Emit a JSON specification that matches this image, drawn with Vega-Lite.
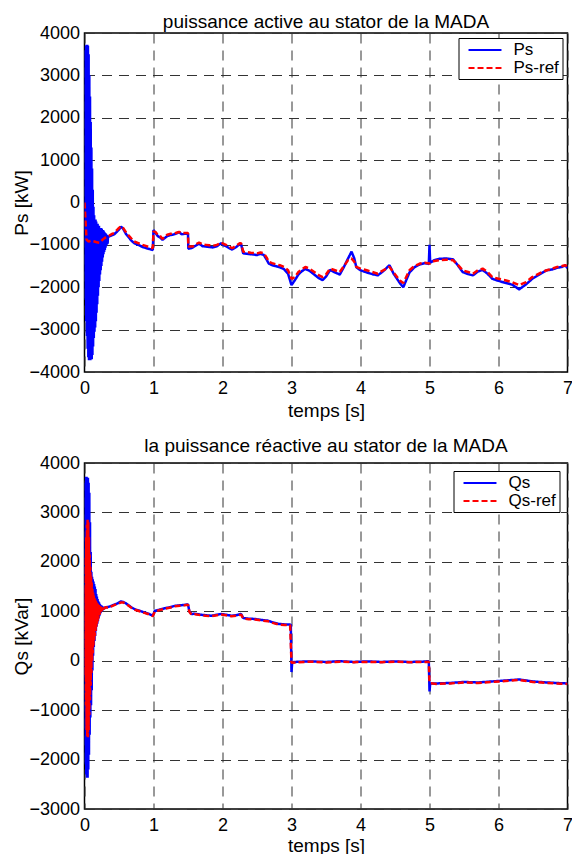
{
  "$schema": "https://vega.github.io/schema/vega-lite/v6.json",
  "autosize": {"type": "pad"},
  "padding": {"left": 11.5, "top": 12, "right": 0, "bottom": 0},
  "background": "white",
  "bounds": "flush",
  "spacing": 91,
  "datasets": {
    "ps": [
      {"t":0.000,"v":3200,"s":"Ps"},{"t":0.005,"v":-1700,"s":"Ps"},{"t":0.010,"v":3600,"s":"Ps"},{"t":0.015,"v":-2300,"s":"Ps"},
      {"t":0.020,"v":3700,"s":"Ps"},{"t":0.025,"v":-2800,"s":"Ps"},{"t":0.030,"v":3720,"s":"Ps"},{"t":0.035,"v":-3150,"s":"Ps"},
      {"t":0.040,"v":3720,"s":"Ps"},{"t":0.045,"v":-3450,"s":"Ps"},{"t":0.050,"v":3700,"s":"Ps"},{"t":0.055,"v":-3650,"s":"Ps"},
      {"t":0.060,"v":3500,"s":"Ps"},{"t":0.065,"v":-3720,"s":"Ps"},{"t":0.070,"v":3000,"s":"Ps"},{"t":0.075,"v":-3720,"s":"Ps"},
      {"t":0.080,"v":2500,"s":"Ps"},{"t":0.085,"v":-3720,"s":"Ps"},{"t":0.090,"v":1900,"s":"Ps"},{"t":0.095,"v":-3700,"s":"Ps"},
      {"t":0.100,"v":1300,"s":"Ps"},{"t":0.105,"v":-3700,"s":"Ps"},{"t":0.110,"v":800,"s":"Ps"},{"t":0.115,"v":-3600,"s":"Ps"},
      {"t":0.120,"v":300,"s":"Ps"},{"t":0.125,"v":-3400,"s":"Ps"},{"t":0.130,"v":-100,"s":"Ps"},{"t":0.135,"v":-3200,"s":"Ps"},
      {"t":0.140,"v":-300,"s":"Ps"},{"t":0.145,"v":-3050,"s":"Ps"},{"t":0.150,"v":-400,"s":"Ps"},{"t":0.155,"v":-2950,"s":"Ps"},
      {"t":0.160,"v":-400,"s":"Ps"},{"t":0.165,"v":-2800,"s":"Ps"},{"t":0.170,"v":-450,"s":"Ps"},{"t":0.175,"v":-2600,"s":"Ps"},
      {"t":0.180,"v":-500,"s":"Ps"},{"t":0.185,"v":-2400,"s":"Ps"},{"t":0.190,"v":-500,"s":"Ps"},{"t":0.195,"v":-2200,"s":"Ps"},
      {"t":0.200,"v":-550,"s":"Ps"},{"t":0.205,"v":-2000,"s":"Ps"},{"t":0.210,"v":-550,"s":"Ps"},{"t":0.215,"v":-1850,"s":"Ps"},
      {"t":0.220,"v":-600,"s":"Ps"},{"t":0.225,"v":-1700,"s":"Ps"},{"t":0.230,"v":-600,"s":"Ps"},{"t":0.235,"v":-1600,"s":"Ps"},
      {"t":0.240,"v":-600,"s":"Ps"},{"t":0.245,"v":-1500,"s":"Ps"},{"t":0.250,"v":-620,"s":"Ps"},{"t":0.255,"v":-1400,"s":"Ps"},
      {"t":0.260,"v":-650,"s":"Ps"},{"t":0.265,"v":-1300,"s":"Ps"},{"t":0.270,"v":-650,"s":"Ps"},{"t":0.275,"v":-1220,"s":"Ps"},
      {"t":0.280,"v":-680,"s":"Ps"},{"t":0.285,"v":-1170,"s":"Ps"},{"t":0.290,"v":-700,"s":"Ps"},{"t":0.295,"v":-1120,"s":"Ps"},
      {"t":0.300,"v":-720,"s":"Ps"},{"t":0.305,"v":-1070,"s":"Ps"},{"t":0.310,"v":-740,"s":"Ps"},{"t":0.315,"v":-1020,"s":"Ps"},
      {"t":0.320,"v":-760,"s":"Ps"},{"t":0.325,"v":-990,"s":"Ps"},{"t":0.330,"v":-780,"s":"Ps"},{"t":0.335,"v":-970,"s":"Ps"},
      {"t":0.340,"v":-800,"s":"Ps"},
      {"t":0.360,"v":-800,"s":"Ps"},{"t":0.400,"v":-770,"s":"Ps"},{"t":0.430,"v":-750,"s":"Ps"},{"t":0.470,"v":-690,"s":"Ps"},
      {"t":0.500,"v":-640,"s":"Ps"},{"t":0.530,"v":-570,"s":"Ps"},{"t":0.560,"v":-620,"s":"Ps"},{"t":0.600,"v":-740,"s":"Ps"},
      {"t":0.630,"v":-800,"s":"Ps"},{"t":0.680,"v":-900,"s":"Ps"},{"t":0.720,"v":-960,"s":"Ps"},{"t":0.780,"v":-1000,"s":"Ps"},
      {"t":0.840,"v":-1050,"s":"Ps"},{"t":0.900,"v":-1080,"s":"Ps"},{"t":0.950,"v":-1100,"s":"Ps"},{"t":0.990,"v":-1120,"s":"Ps"},
      {"t":1.000,"v":-650,"s":"Ps"},{"t":1.030,"v":-720,"s":"Ps"},{"t":1.060,"v":-790,"s":"Ps"},{"t":1.100,"v":-830,"s":"Ps"},
      {"t":1.130,"v":-880,"s":"Ps"},{"t":1.170,"v":-830,"s":"Ps"},{"t":1.200,"v":-790,"s":"Ps"},{"t":1.240,"v":-770,"s":"Ps"},
      {"t":1.280,"v":-760,"s":"Ps"},{"t":1.320,"v":-740,"s":"Ps"},{"t":1.370,"v":-700,"s":"Ps"},{"t":1.410,"v":-750,"s":"Ps"},
      {"t":1.450,"v":-740,"s":"Ps"},{"t":1.500,"v":-740,"s":"Ps"},{"t":1.505,"v":-1090,"s":"Ps"},{"t":1.540,"v":-1080,"s":"Ps"},
      {"t":1.570,"v":-1060,"s":"Ps"},{"t":1.610,"v":-1020,"s":"Ps"},{"t":1.660,"v":-970,"s":"Ps"},{"t":1.710,"v":-1030,"s":"Ps"},
      {"t":1.760,"v":-1040,"s":"Ps"},{"t":1.810,"v":-1050,"s":"Ps"},{"t":1.860,"v":-1060,"s":"Ps"},{"t":1.920,"v":-1030,"s":"Ps"},
      {"t":1.980,"v":-960,"s":"Ps"},{"t":2.020,"v":-1010,"s":"Ps"},{"t":2.050,"v":-1030,"s":"Ps"},{"t":2.100,"v":-1080,"s":"Ps"},
      {"t":2.140,"v":-1110,"s":"Ps"},{"t":2.200,"v":-1050,"s":"Ps"},{"t":2.250,"v":-980,"s":"Ps"},{"t":2.270,"v":-990,"s":"Ps"},
      {"t":2.300,"v":-1200,"s":"Ps"},{"t":2.350,"v":-1210,"s":"Ps"},{"t":2.410,"v":-1220,"s":"Ps"},{"t":2.460,"v":-1230,"s":"Ps"},
      {"t":2.500,"v":-1240,"s":"Ps"},{"t":2.550,"v":-1210,"s":"Ps"},{"t":2.600,"v":-1240,"s":"Ps"},{"t":2.640,"v":-1350,"s":"Ps"},
      {"t":2.670,"v":-1440,"s":"Ps"},{"t":2.720,"v":-1480,"s":"Ps"},{"t":2.770,"v":-1500,"s":"Ps"},{"t":2.830,"v":-1530,"s":"Ps"},
      {"t":2.890,"v":-1570,"s":"Ps"},{"t":2.950,"v":-1680,"s":"Ps"},{"t":3.000,"v":-1950,"s":"Ps"},{"t":3.050,"v":-1830,"s":"Ps"},
      {"t":3.100,"v":-1700,"s":"Ps"},{"t":3.150,"v":-1620,"s":"Ps"},{"t":3.200,"v":-1570,"s":"Ps"},{"t":3.260,"v":-1610,"s":"Ps"},
      {"t":3.330,"v":-1700,"s":"Ps"},{"t":3.400,"v":-1790,"s":"Ps"},{"t":3.450,"v":-1830,"s":"Ps"},{"t":3.500,"v":-1750,"s":"Ps"},
      {"t":3.560,"v":-1590,"s":"Ps"},{"t":3.630,"v":-1650,"s":"Ps"},{"t":3.700,"v":-1700,"s":"Ps"},{"t":3.760,"v":-1520,"s":"Ps"},
      {"t":3.820,"v":-1320,"s":"Ps"},{"t":3.870,"v":-1160,"s":"Ps"},{"t":3.910,"v":-1320,"s":"Ps"},{"t":3.940,"v":-1530,"s":"Ps"},
      {"t":4.000,"v":-1600,"s":"Ps"},{"t":4.090,"v":-1650,"s":"Ps"},{"t":4.170,"v":-1690,"s":"Ps"},{"t":4.250,"v":-1720,"s":"Ps"},
      {"t":4.330,"v":-1620,"s":"Ps"},{"t":4.420,"v":-1480,"s":"Ps"},{"t":4.480,"v":-1680,"s":"Ps"},{"t":4.570,"v":-1900,"s":"Ps"},
      {"t":4.620,"v":-2000,"s":"Ps"},{"t":4.710,"v":-1650,"s":"Ps"},{"t":4.780,"v":-1530,"s":"Ps"},{"t":4.860,"v":-1460,"s":"Ps"},
      {"t":4.930,"v":-1430,"s":"Ps"},{"t":4.990,"v":-1450,"s":"Ps"},{"t":5.000,"v":-1000,"s":"Ps"},{"t":5.010,"v":-1420,"s":"Ps"},
      {"t":5.070,"v":-1360,"s":"Ps"},{"t":5.140,"v":-1330,"s":"Ps"},{"t":5.240,"v":-1320,"s":"Ps"},{"t":5.340,"v":-1340,"s":"Ps"},
      {"t":5.400,"v":-1460,"s":"Ps"},{"t":5.480,"v":-1640,"s":"Ps"},{"t":5.560,"v":-1690,"s":"Ps"},{"t":5.630,"v":-1720,"s":"Ps"},
      {"t":5.700,"v":-1630,"s":"Ps"},{"t":5.770,"v":-1590,"s":"Ps"},{"t":5.840,"v":-1680,"s":"Ps"},{"t":5.910,"v":-1800,"s":"Ps"},
      {"t":6.000,"v":-1850,"s":"Ps"},{"t":6.110,"v":-1900,"s":"Ps"},{"t":6.200,"v":-1940,"s":"Ps"},{"t":6.300,"v":-2050,"s":"Ps"},
      {"t":6.400,"v":-1930,"s":"Ps"},{"t":6.490,"v":-1800,"s":"Ps"},{"t":6.560,"v":-1730,"s":"Ps"},{"t":6.630,"v":-1660,"s":"Ps"},
      {"t":6.700,"v":-1600,"s":"Ps"},{"t":6.780,"v":-1580,"s":"Ps"},{"t":6.850,"v":-1540,"s":"Ps"},{"t":6.920,"v":-1520,"s":"Ps"},
      {"t":6.970,"v":-1480,"s":"Ps"},{"t":7.000,"v":-1550,"s":"Ps"}
    ],
    "psref": [
      {"t":0.000,"v":0,"s":"Ps-ref"},{"t":0.030,"v":-880,"s":"Ps-ref"},{"t":0.060,"v":-920,"s":"Ps-ref"},{"t":0.100,"v":-900,"s":"Ps-ref"},
      {"t":0.145,"v":-920,"s":"Ps-ref"},{"t":0.180,"v":-940,"s":"Ps-ref"},{"t":0.220,"v":-950,"s":"Ps-ref"},{"t":0.260,"v":-880,"s":"Ps-ref"},
      {"t":0.290,"v":-840,"s":"Ps-ref"},{"t":0.330,"v":-800,"s":"Ps-ref"},{"t":0.360,"v":-780,"s":"Ps-ref"},{"t":0.400,"v":-740,"s":"Ps-ref"},
      {"t":0.430,"v":-720,"s":"Ps-ref"},{"t":0.470,"v":-650,"s":"Ps-ref"},{"t":0.500,"v":-600,"s":"Ps-ref"},{"t":0.530,"v":-560,"s":"Ps-ref"},
      {"t":0.560,"v":-600,"s":"Ps-ref"},{"t":0.600,"v":-700,"s":"Ps-ref"},{"t":0.630,"v":-760,"s":"Ps-ref"},{"t":0.680,"v":-850,"s":"Ps-ref"},
      {"t":0.720,"v":-920,"s":"Ps-ref"},{"t":0.780,"v":-960,"s":"Ps-ref"},{"t":0.840,"v":-1000,"s":"Ps-ref"},{"t":0.900,"v":-1030,"s":"Ps-ref"},
      {"t":0.950,"v":-1060,"s":"Ps-ref"},{"t":0.990,"v":-1080,"s":"Ps-ref"},{"t":1.000,"v":-680,"s":"Ps-ref"},{"t":1.030,"v":-700,"s":"Ps-ref"},
      {"t":1.060,"v":-760,"s":"Ps-ref"},{"t":1.100,"v":-800,"s":"Ps-ref"},{"t":1.130,"v":-860,"s":"Ps-ref"},{"t":1.170,"v":-800,"s":"Ps-ref"},
      {"t":1.200,"v":-760,"s":"Ps-ref"},{"t":1.240,"v":-740,"s":"Ps-ref"},{"t":1.280,"v":-736,"s":"Ps-ref"},{"t":1.320,"v":-720,"s":"Ps-ref"},
      {"t":1.370,"v":-696,"s":"Ps-ref"},{"t":1.410,"v":-720,"s":"Ps-ref"},{"t":1.450,"v":-720,"s":"Ps-ref"},{"t":1.500,"v":-720,"s":"Ps-ref"},
      {"t":1.505,"v":-1040,"s":"Ps-ref"},{"t":1.540,"v":-1040,"s":"Ps-ref"},{"t":1.570,"v":-1040,"s":"Ps-ref"},{"t":1.610,"v":-990,"s":"Ps-ref"},
      {"t":1.660,"v":-944,"s":"Ps-ref"},{"t":1.710,"v":-990,"s":"Ps-ref"},{"t":1.760,"v":-1000,"s":"Ps-ref"},{"t":1.810,"v":-1010,"s":"Ps-ref"},
      {"t":1.860,"v":-1024,"s":"Ps-ref"},{"t":1.920,"v":-1000,"s":"Ps-ref"},{"t":1.980,"v":-944,"s":"Ps-ref"},{"t":2.020,"v":-980,"s":"Ps-ref"},
      {"t":2.050,"v":-1000,"s":"Ps-ref"},{"t":2.100,"v":-1040,"s":"Ps-ref"},{"t":2.140,"v":-1080,"s":"Ps-ref"},{"t":2.200,"v":-1020,"s":"Ps-ref"},
      {"t":2.250,"v":-960,"s":"Ps-ref"},{"t":2.270,"v":-960,"s":"Ps-ref"},{"t":2.300,"v":-1160,"s":"Ps-ref"},{"t":2.350,"v":-1170,"s":"Ps-ref"},
      {"t":2.410,"v":-1184,"s":"Ps-ref"},{"t":2.460,"v":-1190,"s":"Ps-ref"},{"t":2.500,"v":-1200,"s":"Ps-ref"},{"t":2.550,"v":-1180,"s":"Ps-ref"},
      {"t":2.600,"v":-1200,"s":"Ps-ref"},{"t":2.640,"v":-1300,"s":"Ps-ref"},{"t":2.670,"v":-1400,"s":"Ps-ref"},{"t":2.720,"v":-1430,"s":"Ps-ref"},
      {"t":2.770,"v":-1456,"s":"Ps-ref"},{"t":2.830,"v":-1480,"s":"Ps-ref"},{"t":2.890,"v":-1520,"s":"Ps-ref"},{"t":2.950,"v":-1600,"s":"Ps-ref"},
      {"t":3.000,"v":-1800,"s":"Ps-ref"},{"t":3.050,"v":-1760,"s":"Ps-ref"},{"t":3.100,"v":-1640,"s":"Ps-ref"},{"t":3.150,"v":-1580,"s":"Ps-ref"},
      {"t":3.200,"v":-1520,"s":"Ps-ref"},{"t":3.260,"v":-1560,"s":"Ps-ref"},{"t":3.330,"v":-1640,"s":"Ps-ref"},{"t":3.400,"v":-1720,"s":"Ps-ref"},
      {"t":3.450,"v":-1760,"s":"Ps-ref"},{"t":3.500,"v":-1700,"s":"Ps-ref"},{"t":3.560,"v":-1560,"s":"Ps-ref"},{"t":3.630,"v":-1600,"s":"Ps-ref"},
      {"t":3.700,"v":-1640,"s":"Ps-ref"},{"t":3.760,"v":-1500,"s":"Ps-ref"},{"t":3.820,"v":-1360,"s":"Ps-ref"},{"t":3.870,"v":-1320,"s":"Ps-ref"},
      {"t":3.910,"v":-1400,"s":"Ps-ref"},{"t":3.940,"v":-1520,"s":"Ps-ref"},{"t":4.000,"v":-1560,"s":"Ps-ref"},{"t":4.090,"v":-1600,"s":"Ps-ref"},
      {"t":4.170,"v":-1640,"s":"Ps-ref"},{"t":4.250,"v":-1680,"s":"Ps-ref"},{"t":4.330,"v":-1600,"s":"Ps-ref"},{"t":4.420,"v":-1520,"s":"Ps-ref"},
      {"t":4.480,"v":-1650,"s":"Ps-ref"},{"t":4.570,"v":-1840,"s":"Ps-ref"},{"t":4.620,"v":-1900,"s":"Ps-ref"},{"t":4.710,"v":-1600,"s":"Ps-ref"},
      {"t":4.780,"v":-1500,"s":"Ps-ref"},{"t":4.860,"v":-1440,"s":"Ps-ref"},{"t":4.930,"v":-1420,"s":"Ps-ref"},{"t":5.000,"v":-1440,"s":"Ps-ref"},
      {"t":5.070,"v":-1380,"s":"Ps-ref"},{"t":5.140,"v":-1360,"s":"Ps-ref"},{"t":5.240,"v":-1350,"s":"Ps-ref"},{"t":5.340,"v":-1360,"s":"Ps-ref"},
      {"t":5.400,"v":-1450,"s":"Ps-ref"},{"t":5.480,"v":-1600,"s":"Ps-ref"},{"t":5.560,"v":-1640,"s":"Ps-ref"},{"t":5.630,"v":-1680,"s":"Ps-ref"},
      {"t":5.700,"v":-1600,"s":"Ps-ref"},{"t":5.770,"v":-1560,"s":"Ps-ref"},{"t":5.840,"v":-1640,"s":"Ps-ref"},{"t":5.910,"v":-1760,"s":"Ps-ref"},
      {"t":6.000,"v":-1800,"s":"Ps-ref"},{"t":6.110,"v":-1840,"s":"Ps-ref"},{"t":6.200,"v":-1880,"s":"Ps-ref"},{"t":6.300,"v":-1950,"s":"Ps-ref"},
      {"t":6.400,"v":-1880,"s":"Ps-ref"},{"t":6.490,"v":-1760,"s":"Ps-ref"},{"t":6.560,"v":-1700,"s":"Ps-ref"},{"t":6.630,"v":-1640,"s":"Ps-ref"},
      {"t":6.700,"v":-1600,"s":"Ps-ref"},{"t":6.780,"v":-1560,"s":"Ps-ref"},{"t":6.850,"v":-1520,"s":"Ps-ref"},{"t":6.920,"v":-1500,"s":"Ps-ref"},
      {"t":6.970,"v":-1480,"s":"Ps-ref"},{"t":7.000,"v":-1520,"s":"Ps-ref"}
    ],
    "qs": [
      {"t":0.000,"v":3000,"s":"Qs"},{"t":0.005,"v":-1700,"s":"Qs"},{"t":0.010,"v":3600,"s":"Qs"},{"t":0.015,"v":-2100,"s":"Qs"},
      {"t":0.020,"v":3720,"s":"Qs"},{"t":0.025,"v":-2300,"s":"Qs"},{"t":0.030,"v":3720,"s":"Qs"},{"t":0.035,"v":-2370,"s":"Qs"},
      {"t":0.040,"v":3700,"s":"Qs"},{"t":0.045,"v":-2370,"s":"Qs"},{"t":0.050,"v":3700,"s":"Qs"},{"t":0.055,"v":-2200,"s":"Qs"},
      {"t":0.060,"v":3600,"s":"Qs"},{"t":0.065,"v":-1900,"s":"Qs"},{"t":0.070,"v":3400,"s":"Qs"},{"t":0.075,"v":-1500,"s":"Qs"},
      {"t":0.080,"v":2800,"s":"Qs"},{"t":0.085,"v":-1150,"s":"Qs"},{"t":0.090,"v":2200,"s":"Qs"},{"t":0.095,"v":-900,"s":"Qs"},
      {"t":0.100,"v":1800,"s":"Qs"},{"t":0.105,"v":-600,"s":"Qs"},{"t":0.110,"v":1700,"s":"Qs"},{"t":0.115,"v":-200,"s":"Qs"},
      {"t":0.120,"v":1650,"s":"Qs"},{"t":0.125,"v":100,"s":"Qs"},{"t":0.130,"v":1600,"s":"Qs"},{"t":0.135,"v":280,"s":"Qs"},
      {"t":0.140,"v":1550,"s":"Qs"},{"t":0.145,"v":400,"s":"Qs"},{"t":0.150,"v":1500,"s":"Qs"},{"t":0.155,"v":500,"s":"Qs"},
      {"t":0.160,"v":1450,"s":"Qs"},{"t":0.165,"v":600,"s":"Qs"},{"t":0.170,"v":1350,"s":"Qs"},{"t":0.175,"v":690,"s":"Qs"},
      {"t":0.180,"v":1300,"s":"Qs"},{"t":0.185,"v":750,"s":"Qs"},{"t":0.190,"v":1250,"s":"Qs"},{"t":0.195,"v":800,"s":"Qs"},
      {"t":0.200,"v":1200,"s":"Qs"},{"t":0.205,"v":860,"s":"Qs"},{"t":0.210,"v":1180,"s":"Qs"},{"t":0.215,"v":900,"s":"Qs"},
      {"t":0.220,"v":1150,"s":"Qs"},{"t":0.225,"v":940,"s":"Qs"},{"t":0.230,"v":1130,"s":"Qs"},{"t":0.235,"v":970,"s":"Qs"},
      {"t":0.240,"v":1120,"s":"Qs"},{"t":0.245,"v":990,"s":"Qs"},{"t":0.250,"v":1110,"s":"Qs"},{"t":0.255,"v":1010,"s":"Qs"},
      {"t":0.260,"v":1100,"s":"Qs"},{"t":0.265,"v":1025,"s":"Qs"},{"t":0.270,"v":1090,"s":"Qs"},{"t":0.275,"v":1035,"s":"Qs"},
      {"t":0.280,"v":1080,"s":"Qs"},{"t":0.285,"v":1045,"s":"Qs"},{"t":0.290,"v":1080,"s":"Qs"},{"t":0.295,"v":1055,"s":"Qs"},
      {"t":0.300,"v":1080,"s":"Qs"},
      {"t":0.350,"v":1090,"s":"Qs"},{"t":0.390,"v":1110,"s":"Qs"},{"t":0.440,"v":1140,"s":"Qs"},{"t":0.480,"v":1160,"s":"Qs"},
      {"t":0.530,"v":1200,"s":"Qs"},{"t":0.560,"v":1190,"s":"Qs"},{"t":0.600,"v":1160,"s":"Qs"},{"t":0.630,"v":1130,"s":"Qs"},
      {"t":0.680,"v":1080,"s":"Qs"},{"t":0.730,"v":1040,"s":"Qs"},{"t":0.800,"v":1010,"s":"Qs"},{"t":0.870,"v":975,"s":"Qs"},
      {"t":0.930,"v":950,"s":"Qs"},{"t":0.990,"v":910,"s":"Qs"},{"t":1.020,"v":1010,"s":"Qs"},{"t":1.080,"v":1030,"s":"Qs"},
      {"t":1.160,"v":1060,"s":"Qs"},{"t":1.230,"v":1080,"s":"Qs"},{"t":1.310,"v":1110,"s":"Qs"},{"t":1.380,"v":1120,"s":"Qs"},
      {"t":1.450,"v":1130,"s":"Qs"},{"t":1.500,"v":1140,"s":"Qs"},{"t":1.520,"v":1000,"s":"Qs"},{"t":1.550,"v":945,"s":"Qs"},
      {"t":1.600,"v":950,"s":"Qs"},{"t":1.690,"v":930,"s":"Qs"},{"t":1.760,"v":920,"s":"Qs"},{"t":1.840,"v":910,"s":"Qs"},
      {"t":1.920,"v":930,"s":"Qs"},{"t":1.980,"v":945,"s":"Qs"},{"t":2.050,"v":930,"s":"Qs"},{"t":2.130,"v":910,"s":"Qs"},
      {"t":2.200,"v":920,"s":"Qs"},{"t":2.270,"v":945,"s":"Qs"},{"t":2.300,"v":865,"s":"Qs"},{"t":2.380,"v":850,"s":"Qs"},
      {"t":2.470,"v":845,"s":"Qs"},{"t":2.560,"v":825,"s":"Qs"},{"t":2.660,"v":810,"s":"Qs"},{"t":2.740,"v":770,"s":"Qs"},
      {"t":2.810,"v":745,"s":"Qs"},{"t":2.900,"v":735,"s":"Qs"},{"t":2.990,"v":730,"s":"Qs"},{"t":3.000,"v":-230,"s":"Qs"},
      {"t":3.010,"v":-30,"s":"Qs"},{"t":3.100,"v":-20,"s":"Qs"},{"t":3.300,"v":-15,"s":"Qs"},{"t":3.500,"v":-25,"s":"Qs"},
      {"t":3.700,"v":-10,"s":"Qs"},{"t":3.900,"v":-25,"s":"Qs"},{"t":4.100,"v":-15,"s":"Qs"},{"t":4.300,"v":-25,"s":"Qs"},
      {"t":4.500,"v":-15,"s":"Qs"},{"t":4.700,"v":-25,"s":"Qs"},{"t":4.900,"v":-20,"s":"Qs"},{"t":4.990,"v":-10,"s":"Qs"},
      {"t":5.000,"v":-620,"s":"Qs"},{"t":5.010,"v":-460,"s":"Qs"},{"t":5.100,"v":-460,"s":"Qs"},{"t":5.300,"v":-450,"s":"Qs"},
      {"t":5.500,"v":-430,"s":"Qs"},{"t":5.700,"v":-440,"s":"Qs"},{"t":5.900,"v":-420,"s":"Qs"},{"t":6.100,"v":-400,"s":"Qs"},
      {"t":6.300,"v":-380,"s":"Qs"},{"t":6.500,"v":-420,"s":"Qs"},{"t":6.700,"v":-440,"s":"Qs"},{"t":6.900,"v":-455,"s":"Qs"},
      {"t":7.000,"v":-460,"s":"Qs"}
    ],
    "qsref": [
      {"t":0.000,"v":800,"s":"Qs-ref"},{"t":0.005,"v":1500,"s":"Qs-ref"},{"t":0.010,"v":-300,"s":"Qs-ref"},{"t":0.015,"v":2100,"s":"Qs-ref"},
      {"t":0.020,"v":-900,"s":"Qs-ref"},{"t":0.025,"v":2500,"s":"Qs-ref"},{"t":0.030,"v":-1400,"s":"Qs-ref"},{"t":0.035,"v":2750,"s":"Qs-ref"},
      {"t":0.040,"v":-1550,"s":"Qs-ref"},{"t":0.045,"v":2850,"s":"Qs-ref"},{"t":0.050,"v":-1550,"s":"Qs-ref"},{"t":0.055,"v":2800,"s":"Qs-ref"},
      {"t":0.060,"v":-1400,"s":"Qs-ref"},{"t":0.065,"v":2500,"s":"Qs-ref"},{"t":0.070,"v":-1100,"s":"Qs-ref"},{"t":0.075,"v":2150,"s":"Qs-ref"},
      {"t":0.080,"v":-800,"s":"Qs-ref"},{"t":0.085,"v":1900,"s":"Qs-ref"},{"t":0.090,"v":-500,"s":"Qs-ref"},{"t":0.095,"v":1720,"s":"Qs-ref"},
      {"t":0.100,"v":-250,"s":"Qs-ref"},{"t":0.105,"v":1580,"s":"Qs-ref"},{"t":0.110,"v":0,"s":"Qs-ref"},{"t":0.115,"v":1450,"s":"Qs-ref"},
      {"t":0.120,"v":150,"s":"Qs-ref"},{"t":0.125,"v":1380,"s":"Qs-ref"},{"t":0.130,"v":300,"s":"Qs-ref"},{"t":0.135,"v":1320,"s":"Qs-ref"},
      {"t":0.140,"v":420,"s":"Qs-ref"},{"t":0.145,"v":1270,"s":"Qs-ref"},{"t":0.150,"v":500,"s":"Qs-ref"},{"t":0.155,"v":1240,"s":"Qs-ref"},
      {"t":0.160,"v":600,"s":"Qs-ref"},{"t":0.165,"v":1210,"s":"Qs-ref"},{"t":0.170,"v":680,"s":"Qs-ref"},{"t":0.175,"v":1180,"s":"Qs-ref"},
      {"t":0.180,"v":750,"s":"Qs-ref"},{"t":0.185,"v":1160,"s":"Qs-ref"},{"t":0.190,"v":800,"s":"Qs-ref"},{"t":0.195,"v":1140,"s":"Qs-ref"},
      {"t":0.200,"v":850,"s":"Qs-ref"},{"t":0.205,"v":1125,"s":"Qs-ref"},{"t":0.210,"v":900,"s":"Qs-ref"},{"t":0.215,"v":1115,"s":"Qs-ref"},
      {"t":0.220,"v":930,"s":"Qs-ref"},{"t":0.225,"v":1105,"s":"Qs-ref"},{"t":0.230,"v":960,"s":"Qs-ref"},{"t":0.235,"v":1095,"s":"Qs-ref"},
      {"t":0.240,"v":990,"s":"Qs-ref"},{"t":0.245,"v":1085,"s":"Qs-ref"},{"t":0.250,"v":1010,"s":"Qs-ref"},{"t":0.255,"v":1075,"s":"Qs-ref"},
      {"t":0.260,"v":1030,"s":"Qs-ref"},{"t":0.265,"v":1065,"s":"Qs-ref"},{"t":0.270,"v":1040,"s":"Qs-ref"},{"t":0.275,"v":1060,"s":"Qs-ref"},
      {"t":0.280,"v":1050,"s":"Qs-ref"},{"t":0.290,"v":1065,"s":"Qs-ref"},{"t":0.300,"v":1080,"s":"Qs-ref"},
      {"t":0.350,"v":1070,"s":"Qs-ref"},{"t":0.390,"v":1100,"s":"Qs-ref"},{"t":0.440,"v":1130,"s":"Qs-ref"},{"t":0.480,"v":1150,"s":"Qs-ref"},
      {"t":0.530,"v":1180,"s":"Qs-ref"},{"t":0.560,"v":1180,"s":"Qs-ref"},{"t":0.600,"v":1150,"s":"Qs-ref"},{"t":0.630,"v":1120,"s":"Qs-ref"},
      {"t":0.680,"v":1070,"s":"Qs-ref"},{"t":0.730,"v":1030,"s":"Qs-ref"},{"t":0.800,"v":1000,"s":"Qs-ref"},{"t":0.870,"v":967,"s":"Qs-ref"},
      {"t":0.930,"v":940,"s":"Qs-ref"},{"t":0.990,"v":900,"s":"Qs-ref"},{"t":1.020,"v":1000,"s":"Qs-ref"},{"t":1.080,"v":1020,"s":"Qs-ref"},
      {"t":1.160,"v":1050,"s":"Qs-ref"},{"t":1.230,"v":1070,"s":"Qs-ref"},{"t":1.310,"v":1100,"s":"Qs-ref"},{"t":1.380,"v":1110,"s":"Qs-ref"},
      {"t":1.450,"v":1120,"s":"Qs-ref"},{"t":1.500,"v":1130,"s":"Qs-ref"},{"t":1.520,"v":990,"s":"Qs-ref"},{"t":1.550,"v":933,"s":"Qs-ref"},
      {"t":1.600,"v":940,"s":"Qs-ref"},{"t":1.690,"v":920,"s":"Qs-ref"},{"t":1.760,"v":910,"s":"Qs-ref"},{"t":1.840,"v":900,"s":"Qs-ref"},
      {"t":1.920,"v":920,"s":"Qs-ref"},{"t":1.980,"v":933,"s":"Qs-ref"},{"t":2.050,"v":920,"s":"Qs-ref"},{"t":2.130,"v":900,"s":"Qs-ref"},
      {"t":2.200,"v":910,"s":"Qs-ref"},{"t":2.270,"v":933,"s":"Qs-ref"},{"t":2.300,"v":853,"s":"Qs-ref"},{"t":2.380,"v":840,"s":"Qs-ref"},
      {"t":2.470,"v":833,"s":"Qs-ref"},{"t":2.560,"v":815,"s":"Qs-ref"},{"t":2.660,"v":800,"s":"Qs-ref"},{"t":2.740,"v":760,"s":"Qs-ref"},
      {"t":2.810,"v":733,"s":"Qs-ref"},{"t":2.900,"v":725,"s":"Qs-ref"},{"t":2.980,"v":720,"s":"Qs-ref"},{"t":3.000,"v":-40,"s":"Qs-ref"},
      {"t":3.100,"v":-30,"s":"Qs-ref"},{"t":3.300,"v":-20,"s":"Qs-ref"},{"t":3.500,"v":-35,"s":"Qs-ref"},{"t":3.700,"v":-20,"s":"Qs-ref"},
      {"t":3.900,"v":-30,"s":"Qs-ref"},{"t":4.100,"v":-25,"s":"Qs-ref"},{"t":4.300,"v":-30,"s":"Qs-ref"},{"t":4.500,"v":-20,"s":"Qs-ref"},
      {"t":4.700,"v":-30,"s":"Qs-ref"},{"t":4.900,"v":-25,"s":"Qs-ref"},{"t":4.990,"v":-20,"s":"Qs-ref"},{"t":5.000,"v":-450,"s":"Qs-ref"},
      {"t":5.100,"v":-470,"s":"Qs-ref"},{"t":5.300,"v":-460,"s":"Qs-ref"},{"t":5.500,"v":-440,"s":"Qs-ref"},{"t":5.700,"v":-450,"s":"Qs-ref"},
      {"t":5.900,"v":-430,"s":"Qs-ref"},{"t":6.100,"v":-410,"s":"Qs-ref"},{"t":6.300,"v":-390,"s":"Qs-ref"},{"t":6.500,"v":-430,"s":"Qs-ref"},
      {"t":6.700,"v":-450,"s":"Qs-ref"},{"t":6.900,"v":-465,"s":"Qs-ref"},{"t":7.000,"v":-470,"s":"Qs-ref"}
    ]
  },
  "vconcat": [
    {
      "title": {"text": "puissance active au stator de la MADA", "offset": -8},
      "width": 483,
      "height": 339,
      "layer": [
        {
          "data": {"name": "ps"},
          "mark": {"type": "line", "strokeWidth": 2.5, "strokeJoin": "bevel", "clip": true},
          "encoding": {
            "x": {"field": "t", "type": "quantitative", "scale": {"domain": [0, 7], "nice": false, "zero": false}, "axis": {"values": [0,1,2,3,4,5,6,7], "format": "d", "title": "temps [s]", "titleY": 44}},
            "y": {"field": "v", "type": "quantitative", "scale": {"domain": [-4000, 4000], "nice": false}, "axis": {"values": [-4000,-3000,-2000,-1000,0,1000,2000,3000,4000], "format": "d", "title": "Ps [kW]", "titleX": -57}},
            "color": {"field": "s", "type": "nominal", "scale": {"domain": ["Ps", "Ps-ref"], "range": ["#0000ff", "#ff0000"]}, "legend": {"title": null, "orient": "top-right", "offset": 5}},
            "strokeDash": {"field": "s", "type": "nominal", "scale": {"domain": ["Ps", "Ps-ref"], "range": [[1, 0], [6, 3]]}, "legend": {"title": null, "orient": "top-right", "offset": 5}}
          }
        },
        {
          "data": {"name": "psref"},
          "mark": {"type": "line", "strokeWidth": 2.5, "strokeJoin": "bevel", "clip": true},
          "encoding": {
            "x": {"field": "t", "type": "quantitative"},
            "y": {"field": "v", "type": "quantitative"},
            "color": {"field": "s", "type": "nominal"},
            "strokeDash": {"field": "s", "type": "nominal"}
          }
        }
      ]
    },
    {
      "title": {"text": "la puissance réactive au stator de la MADA", "offset": -2},
      "width": 483,
      "height": 346,
      "layer": [
        {
          "data": {"name": "qs"},
          "mark": {"type": "line", "strokeWidth": 2.5, "strokeJoin": "bevel", "clip": true},
          "encoding": {
            "x": {"field": "t", "type": "quantitative", "scale": {"domain": [0, 7], "nice": false, "zero": false}, "axis": {"values": [0,1,2,3,4,5,6,7], "format": "d", "title": "temps [s]", "titleY": 42}},
            "y": {"field": "v", "type": "quantitative", "scale": {"domain": [-3000, 4000], "nice": false}, "axis": {"values": [-3000,-2000,-1000,0,1000,2000,3000,4000], "format": "d", "title": "Qs [kVar]", "titleX": -57}},
            "color": {"field": "s", "type": "nominal", "scale": {"domain": ["Qs", "Qs-ref"], "range": ["#0000ff", "#ff0000"]}, "legend": {"title": null, "orient": "top-right", "offset": 8}},
            "strokeDash": {"field": "s", "type": "nominal", "scale": {"domain": ["Qs", "Qs-ref"], "range": [[1, 0], [6, 3]]}, "legend": {"title": null, "orient": "top-right", "offset": 8}}
          }
        },
        {
          "data": {"name": "qsref"},
          "mark": {"type": "line", "strokeWidth": 2.5, "strokeJoin": "bevel", "clip": true},
          "encoding": {
            "x": {"field": "t", "type": "quantitative"},
            "y": {"field": "v", "type": "quantitative"},
            "color": {"field": "s", "type": "nominal"},
            "strokeDash": {"field": "s", "type": "nominal"}
          }
        }
      ]
    }
  ],
  "resolve": {
    "scale": {"color": "independent", "strokeDash": "independent"},
    "legend": {"color": "independent", "strokeDash": "independent"}
  },
  "config": {
    "font": "Liberation Sans",
    "view": {"stroke": "black", "strokeWidth": 1.5},
    "axis": {
      "domain": false, "ticks": false, "grid": true, "gridColor": "#333333", "gridDash": [10, 7], "gridWidth": 1, "gridOpacity": 1,
      "labelFontSize": 18, "labelColor": "black", "labelFlush": false, "labelOverlap": false, "labelPadding": 5,
      "titleFontSize": 19, "titleFontWeight": "normal", "titleColor": "black", "titleBaseline": "alphabetic"
    },
    "axisX": {"labelPadding": 7},
    "title": {"fontSize": 19, "fontWeight": "normal", "color": "black", "frame": "group", "baseline": "alphabetic"},
    "legend": {
      "fillColor": "white", "strokeColor": "black", "padding": 3, "cornerRadius": 0,
      "labelFontSize": 17, "labelColor": "black", "symbolType": "M-2.06,0H2.06", "symbolSize": 256, "symbolOffset": 14.5,
      "symbolStrokeWidth": 2, "labelOffset": 19.5, "rowPadding": 1
    }
  }
}
